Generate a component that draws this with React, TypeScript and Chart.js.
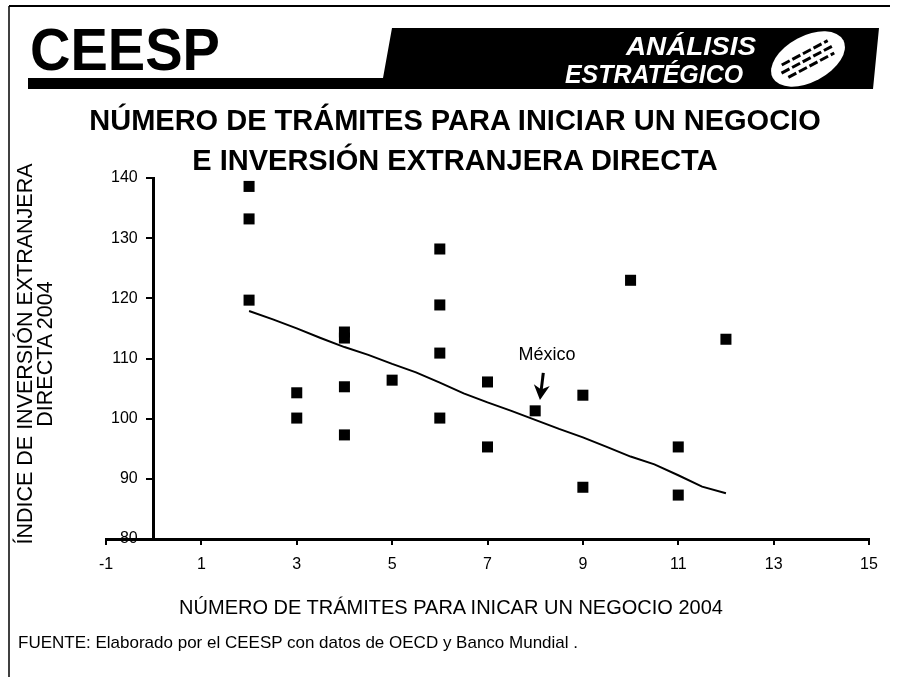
import React, { useEffect, useRef } from "react";
import { Chart, registerables } from "chart.js";

Chart.register(...registerables);

// ---- Data ----
const xTickMin = -1;
const xTickMax = 15;
const xTickStep = 2;
const yTickMin = 80;
const yTickMax = 140;
const yTickStep = 10;

// Número de trámites (x) e índice de IED (y) por país
const tramites = [2, 2, 2, 3, 3, 4, 4, 4, 4, 5, 6, 6, 6, 6, 7, 7, 8, 9, 9, 10, 11, 11, 12];
const indiceIED = [
  138.6, 133.2, 119.7, 104.3, 100.1, 114.4, 113.4, 105.3, 97.3, 106.4, 128.2, 118.9, 110.9,
  100.1, 106.1, 95.3, 101.3, 103.9, 88.6, 123.0, 95.3, 87.3, 113.2,
];

// Línea de tendencia
const trendX = [2, 2.5, 3, 3.5, 4, 4.5, 5, 5.5, 6, 6.5, 7, 7.5, 8, 8.5, 9, 9.5, 10, 10.5, 11, 11.5, 12];
const trendY = [
  117.9, 116.5, 115.0, 113.4, 111.9, 110.6, 109.1, 107.7, 106.0, 104.2, 102.7, 101.3, 99.8, 98.3,
  96.9, 95.3, 93.7, 92.4, 90.6, 88.7, 87.6,
];

// Anotación México
const mexicoLabel = "México";
const mexicoLabelAt = [8.25, 110.6];
const mexicoArrowFrom = [8.17, 107.6];
const mexicoArrowTo = [8.1, 103.1];

const titleLines = ["NÚMERO DE TRÁMITES PARA INICIAR UN NEGOCIO", "E INVERSIÓN EXTRANJERA DIRECTA"];
const yTitleLines = ["ÍNDICE DE INVERSIÓN EXTRANJERA", "DIRECTA 2004"];
const xTitle = "NÚMERO DE TRÁMITES PARA INICAR UN NEGOCIO 2004";
const sourceNote = "FUENTE: Elaborado por el CEESP con datos de OECD y Banco Mundial .";
const brand = "CEESP";
const brandSub = ["ANÁLISIS", "ESTRATÉGICO"];

const FONT = '"Liberation Sans", Arial, Helvetica, sans-serif';

const annotationPlugin = {
  id: "mexicoNote",
  afterDatasetsDraw(chart: any) {
    const { ctx, scales } = chart;
    const xs = scales.x;
    const ys = scales.y;
    ctx.save();
    ctx.fillStyle = "#000";
    ctx.strokeStyle = "#000";
    ctx.font = `18px ${FONT}`;
    ctx.textAlign = "center";
    ctx.textBaseline = "middle";
    ctx.fillText(mexicoLabel, xs.getPixelForValue(mexicoLabelAt[0]), ys.getPixelForValue(mexicoLabelAt[1]));
    const x1 = xs.getPixelForValue(mexicoArrowFrom[0]);
    const y1 = ys.getPixelForValue(mexicoArrowFrom[1]);
    const x2 = xs.getPixelForValue(mexicoArrowTo[0]);
    const y2 = ys.getPixelForValue(mexicoArrowTo[1]);
    const ang = Math.atan2(y2 - y1, x2 - x1);
    const hl = 15;
    const hw = 8;
    const c = Math.cos(ang);
    const s = Math.sin(ang);
    ctx.lineWidth = 3;
    ctx.beginPath();
    ctx.moveTo(x1, y1);
    ctx.lineTo(x2 - hl * c * 0.6, y2 - hl * s * 0.6);
    ctx.stroke();
    ctx.beginPath();
    ctx.moveTo(x2, y2);
    ctx.lineTo(x2 - hl * c + hw * s, y2 - hl * s - hw * c);
    ctx.lineTo(x2 - hl * c * 0.7, y2 - hl * s * 0.7);
    ctx.lineTo(x2 - hl * c - hw * s, y2 - hl * s + hw * c);
    ctx.closePath();
    ctx.fill();
    ctx.restore();
  },
};

export default function App() {
  const canvasRef = useRef<HTMLCanvasElement | null>(null);

  useEffect(() => {
    if (!canvasRef.current) return;
    const tickFont = { family: FONT, size: 16 };
    const axisGrid = {
      display: true,
      drawOnChartArea: false,
      drawTicks: true,
      tickLength: 6,
      color: "#000",
      lineWidth: 2,
    };
    const chart = new Chart(canvasRef.current, {
      type: "scatter",
      data: {
        datasets: [
          {
            label: "Países",
            data: tramites.map((t, i) => ({ x: t, y: indiceIED[i] })),
            pointStyle: "rect",
            pointRadius: 7.8,
            pointHoverRadius: 7.8,
            backgroundColor: "#000",
            borderColor: "#000",
            borderWidth: 0,
            showLine: false,
          },
          {
            label: "Tendencia",
            data: trendX.map((t, i) => ({ x: t, y: trendY[i] })),
            showLine: true,
            borderColor: "#000",
            borderWidth: 2,
            pointRadius: 0,
            pointHoverRadius: 0,
            fill: false,
            tension: 0,
          },
        ],
      },
      options: {
        animation: false,
        responsive: false,
        events: [],
        layout: { padding: { left: 106, right: 28, top: 178, bottom: 92.8 } },
        plugins: {
          legend: { display: false },
          tooltip: { enabled: false },
          title: { display: false },
        },
        scales: {
          y: {
            type: "linear",
            min: yTickMin,
            max: yTickMax,
            position: { x: 0 },
            ticks: {
              stepSize: yTickStep,
              font: tickFont,
              color: "#000",
              callback: (v: any) => `${v}\u2003`,
            },
            grid: axisGrid,
            border: { display: true, color: "#000", width: 3 },
          },
          x: {
            type: "linear",
            min: xTickMin,
            max: xTickMax,
            position: "bottom",
            ticks: {
              stepSize: xTickStep,
              font: tickFont,
              color: "#000",
              padding: 10,
              maxRotation: 0,
              autoSkip: false,
            },
            grid: axisGrid,
            border: { display: true, color: "#000", width: 3 },
          },
        },
      } as any,
      plugins: [annotationPlugin],
    });
    return () => chart.destroy();
  }, []);

  return (
    <div style={{ position: "fixed", left: 0, top: 0, width: 897, height: 677, background: "#fff" }}>
      <canvas ref={canvasRef} width={897} height={677} style={{ position: "absolute", left: 0, top: 0, display: "block" }} />
      <svg
        width={897}
        height={677}
        style={{ position: "absolute", left: 0, top: 0, pointerEvents: "none" }}
        fontFamily={FONT}
      >
        {/* frame */}
        <line x1={9} y1={6} x2={890} y2={6} stroke="#000" strokeWidth={2} />
        <line x1={9} y1={6} x2={9} y2={677} stroke="#000" strokeWidth={1.5} />
        {/* header */}
        <text
          x={30}
          y={70}
          fontSize={60}
          fontWeight="bold"
          fill="#000"
          textLength={190}
          lengthAdjust="spacingAndGlyphs"
        >
          {brand}
        </text>
        <polygon points="28,78 383,78 392,28 879,28 873,89 28,89" fill="#000" />
        <text
          x={756}
          y={55}
          textAnchor="end"
          fontSize={26}
          fontWeight="bold"
          fontStyle="italic"
          fill="#fff"
          textLength={130}
          lengthAdjust="spacingAndGlyphs"
        >
          {brandSub[0]}
        </text>
        <text
          x={743}
          y={83}
          textAnchor="end"
          fontSize={26}
          fontWeight="bold"
          fontStyle="italic"
          fill="#fff"
          textLength={178}
          lengthAdjust="spacingAndGlyphs"
        >
          {brandSub[1]}
        </text>
        <g transform="translate(808,59) rotate(-28)">
          <ellipse cx={0} cy={0} rx={40} ry={23} fill="#fff" />
          <line x1={-26} y1={-7} x2={26} y2={-7} stroke="#000" strokeWidth={3} strokeDasharray="9 3" />
          <line x1={-30} y1={0} x2={30} y2={0} stroke="#000" strokeWidth={3} strokeDasharray="9 3" />
          <line x1={-26} y1={7} x2={26} y2={7} stroke="#000" strokeWidth={3} strokeDasharray="9 3" />
        </g>
        {/* title */}
        <text x={455} y={130} textAnchor="middle" fontSize={29} fontWeight="bold" fill="#000">
          {titleLines[0]}
        </text>
        <text x={455} y={170} textAnchor="middle" fontSize={29} fontWeight="bold" fill="#000">
          {titleLines[1]}
        </text>
        {/* y title */}
        <text transform="translate(32,354) rotate(-90)" textAnchor="middle" fontSize={21.5} fill="#000">
          {yTitleLines[0]}
        </text>
        <text transform="translate(52,354) rotate(-90)" textAnchor="middle" fontSize={21.5} fill="#000">
          {yTitleLines[1]}
        </text>
        {/* x title */}
        <text x={451} y={614} textAnchor="middle" fontSize={20} fill="#000">
          {xTitle}
        </text>
        {/* source */}
        <text x={18} y={648} fontSize={17} fill="#000">
          {sourceNote}
        </text>
      </svg>
    </div>
  );
}
